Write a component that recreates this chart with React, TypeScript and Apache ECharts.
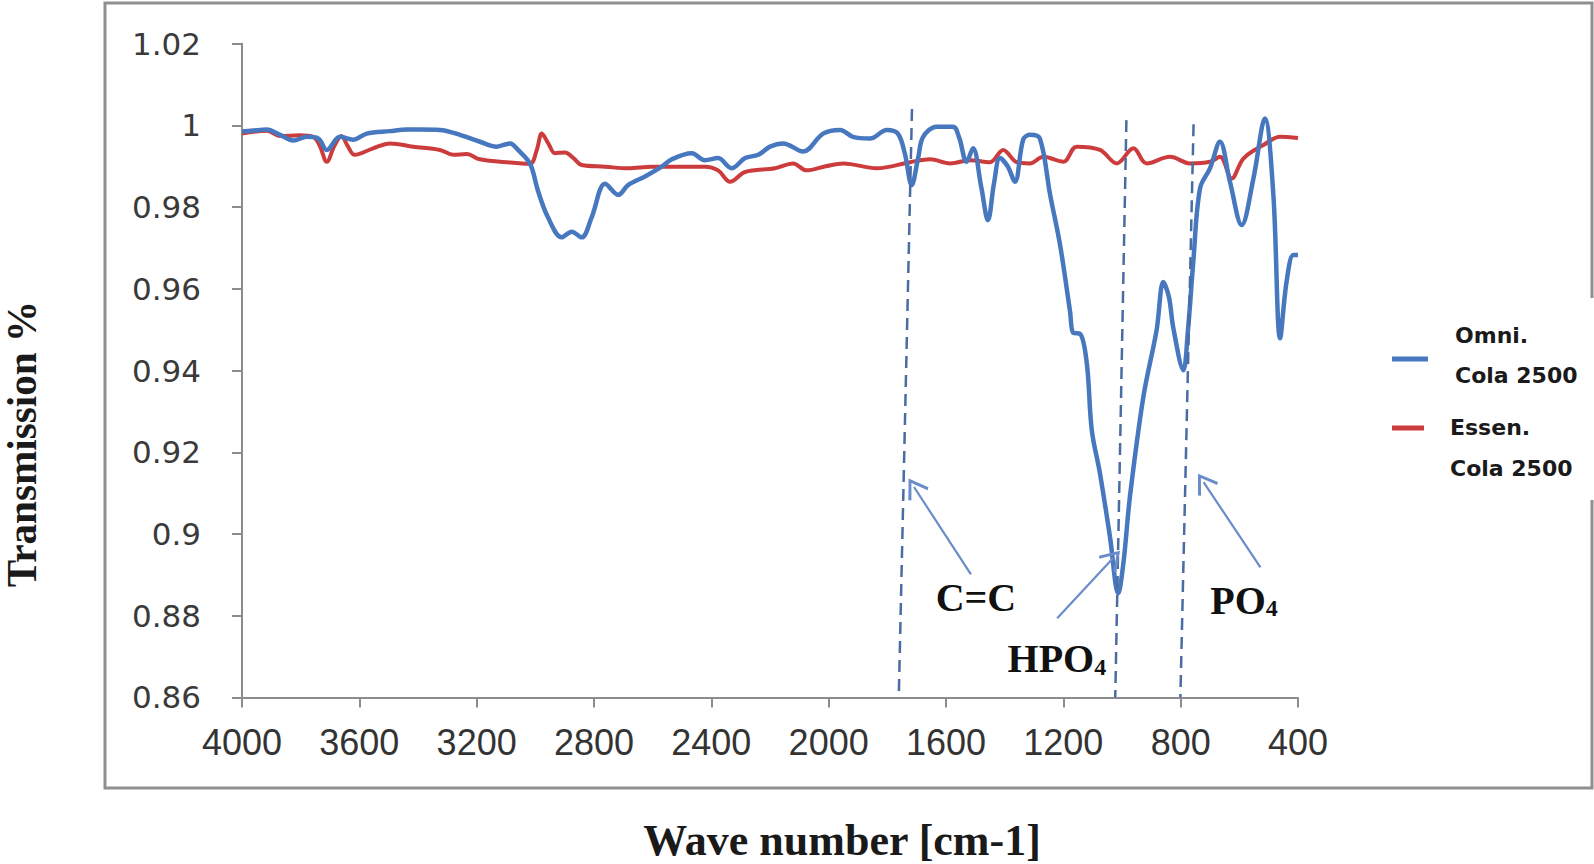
import React, { useEffect, useRef } from "react";
import * as echarts from "echarts";

// ---- data ----
const omniWave = [
  4000, 3950, 3916, 3870, 3825, 3780, 3740, 3711, 3666, 3621, 3575, 3495, 3439, 3393, 3325, 3257,
  3189, 3132, 3086, 3059, 3018, 2991, 2957, 2910, 2876, 2842, 2808, 2762, 2717, 2684, 2626, 2569,
  2535, 2467, 2422, 2377, 2331, 2285, 2240, 2200, 2155, 2087, 2019, 1961, 1917, 1859, 1802, 1764,
  1740, 1717, 1695, 1678, 1632, 1576, 1555, 1530, 1508, 1480, 1457, 1436, 1416, 1390, 1365, 1337,
  1314, 1280, 1245, 1211, 1177, 1166, 1143, 1120, 1103, 1075, 1041, 1013, 995, 973, 927, 882, 859,
  840, 825, 791, 775, 757, 734, 700, 666, 632, 592, 552, 513, 484, 461, 439, 416, 400,
];
const omniT = [
  0.9985, 0.9988, 0.999, 0.9977, 0.9963, 0.9972, 0.9968, 0.994, 0.9972, 0.9965, 0.998, 0.9986, 0.999,
  0.999, 0.9989, 0.9977, 0.996, 0.9948, 0.9956, 0.994, 0.9906, 0.984, 0.9775, 0.9726, 0.974, 0.9726,
  0.9775, 0.9857, 0.983, 0.9854, 0.9875, 0.9899, 0.9917, 0.9932, 0.9915, 0.992, 0.9895, 0.992, 0.9928,
  0.9948, 0.9956, 0.9936, 0.998, 0.9989, 0.9972, 0.9968, 0.9989, 0.998, 0.993, 0.9854, 0.992, 0.9972,
  0.9997, 0.9997, 0.997, 0.9911, 0.9944, 0.985, 0.9768, 0.986, 0.992, 0.99, 0.9862, 0.9965, 0.9977,
  0.9968, 0.983, 0.9707, 0.9544, 0.9492, 0.949, 0.9418, 0.9254, 0.9148, 0.8993, 0.8855, 0.893, 0.9091,
  0.9336, 0.9499, 0.9617, 0.958, 0.9504, 0.9401, 0.95, 0.9666, 0.9846, 0.9895, 0.996, 0.9862, 0.9756,
  0.987, 1.0017, 0.983, 0.9479, 0.9617, 0.9683, 0.9683,
];
const essenWave = [
  4000, 3916, 3870, 3803, 3757, 3735, 3711, 3685, 3661, 3640, 3616, 3553, 3495, 3416, 3325, 3280,
  3234, 3189, 3086, 3018, 2995, 2978, 2955, 2933, 2899, 2870, 2842, 2762, 2684, 2603, 2512, 2422,
  2377, 2336, 2285, 2183, 2121, 2076, 2010, 1950, 1836, 1722, 1654, 1586, 1518, 1450, 1405, 1359,
  1314, 1268, 1200, 1155, 1075, 1018, 961, 916, 836, 768, 700, 666, 626, 586, 518, 461, 400,
];
const essenT = [
  0.998, 0.9987, 0.9974, 0.9976, 0.9972, 0.995, 0.9911, 0.995, 0.9974, 0.995, 0.9928, 0.9944, 0.9956,
  0.9948, 0.994, 0.9928, 0.993, 0.9917, 0.9909, 0.9906, 0.994, 0.998, 0.9955, 0.9932, 0.9934, 0.992,
  0.9903, 0.9899, 0.9895, 0.9899, 0.9899, 0.9899, 0.989, 0.9862, 0.9886, 0.9895, 0.9907, 0.989, 0.99,
  0.9907, 0.9895, 0.991, 0.9917, 0.9907, 0.9915, 0.991, 0.994, 0.991, 0.9907, 0.9923, 0.9911, 0.9948,
  0.994, 0.9907, 0.9944, 0.9907, 0.9923, 0.9907, 0.9911, 0.9923, 0.987, 0.9919, 0.9952, 0.9972, 0.9969,
];

const seriesNames = ["Omni. Cola 2500", "Essen. Cola 2500"];
const legendLines = [["Omni.", "Cola 2500"], ["Essen.", "Cola 2500"]];
const xTitle = "Wave number [cm-1]";
const yTitle = "Transmission %";

// annotation guide lines: [wave top, T top, wave bottom, T bottom]
const guideLines = [
  [1716, 1.004, 1761, 0.86],
  [985, 1.0013, 1023, 0.86],
  [756, 1.0003, 801, 0.86],
];
// arrows: [wave from, T from, wave to, T to]
const arrows = [
  [1515, 0.8901, 1709, 0.9115],
  [1221, 0.8794, 1030, 0.8941],
  [528, 0.8918, 722, 0.9127],
];
// annotation labels
const annotLabels = [
  { text: "{m|C=C}", wave: 1498, t: 0.8844 },
  { text: "{m|HPO}{s|4}", wave: 1222, t: 0.8694 },
  { text: "{m|PO}{s|4}", wave: 584, t: 0.8838 },
];

const BLUE = "#4677bf";
const RED = "#cc3c3c";

export default function App() {
  const ref = useRef<HTMLDivElement>(null);
  useEffect(() => {
    if (!ref.current) return;
    const chart = echarts.init(ref.current, null, { renderer: "svg" });
    const axisGray = "#8c8c8c";
    const textStyle = (text: string, font: string, align: string) => ({
      text,
      font,
      fill: "#1a1a1a",
      textAlign: align,
      textVerticalAlign: "middle",
      align,
      verticalAlign: "middle",
    });
    const option: any = {
      animation: false,
      backgroundColor: "#ffffff",
      grid: { left: 242, right: 296, top: 43.7, bottom: 166.6, containLabel: false, outerBoundsMode: "none" },
      xAxis: {
        type: "value",
        inverse: true,
        min: 400,
        max: 4000,
        interval: 400,
        axisLine: { show: true, lineStyle: { color: axisGray, width: 2 } },
        axisTick: { show: true, length: 10, lineStyle: { color: axisGray, width: 2 } },
        axisLabel: {
          margin: 27,
          fontFamily: "Liberation Sans",
          fontSize: 36,
          color: "#333333",
          formatter: (v: number) => String(v),
        },
        splitLine: { show: false },
      },
      yAxis: {
        type: "value",
        min: 0.86,
        max: 1.02,
        interval: 0.02,
        axisLine: { show: true, lineStyle: { color: axisGray, width: 2 } },
        axisTick: { show: true, length: 10, lineStyle: { color: axisGray, width: 2 } },
        axisLabel: {
          margin: 41,
          fontFamily: "DejaVu Sans",
          fontSize: 31,
          color: "#3a3a3a",
          formatter: (v: number) => String(parseFloat(v.toFixed(2))),
        },
        splitLine: { show: false },
      },
      series: [
        {
          name: seriesNames[0],
          type: "line",
          data: omniWave.map((w, i) => [w, omniT[i]]),
          showSymbol: false,
          symbol: "none",
          smooth: 0.35,
          lineStyle: { color: BLUE, width: 4.5 },
          itemStyle: { color: BLUE },
          z: 3,
          markLine: {
            silent: true,
            symbol: ["none", "none"],
            label: { show: false },
            lineStyle: { color: "#4a6ca3", width: 2.5, type: [12, 7] },
            data: guideLines.map((g) => [{ coord: [g[0], g[1]] }, { coord: [g[2], g[3]] }]),
          },
          markPoint: {
            silent: true,
            symbol: "circle",
            symbolSize: 0,
            label: {
              show: true,
              position: "inside",
              formatter: (p: any) => p.data.text,
              rich: {
                m: { fontFamily: "Liberation Serif", fontWeight: "bold", fontSize: 40, color: "#111111" },
                s: {
                  fontFamily: "Liberation Serif",
                  fontWeight: "bold",
                  fontSize: 24,
                  color: "#111111",
                  verticalAlign: "bottom",
                },
              },
            },
            data: annotLabels.map((a) => ({ coord: [a.wave, a.t], text: a.text })),
          },
        },
        {
          name: seriesNames[1],
          type: "line",
          data: essenWave.map((w, i) => [w, essenT[i]]),
          showSymbol: false,
          symbol: "none",
          smooth: 0.35,
          lineStyle: { color: RED, width: 4 },
          itemStyle: { color: RED },
          z: 2,
          markLine: {
            silent: true,
            symbol: ["none", "path://M5,0 L10,9 L9,10 L5,2.6 L1,10 L0,9 Z"],
            symbolSize: [24, 20],
            label: { show: false },
            lineStyle: { color: "#6a8cc8", width: 2.2, type: "solid" },
            itemStyle: { color: "#6a8cc8" },
            data: arrows.map((a) => [{ coord: [a[0], a[1]] }, { coord: [a[2], a[3]] }]),
          },
        },
      ],
      graphic: [
        {
          type: "rect",
          shape: { x: 105, y: 3, width: 1487, height: 785 },
          style: { fill: "none", stroke: "#8f8f8f", lineWidth: 3 },
          silent: true,
          z: 0,
        },
        {
          type: "rect",
          shape: { x: 1360, y: 298, width: 240, height: 202 },
          style: { fill: "#ffffff" },
          silent: true,
          z: 1,
        },
        {
          type: "line",
          shape: { x1: 1392, y1: 359, x2: 1428, y2: 359 },
          style: { stroke: BLUE, lineWidth: 5 },
          z: 2,
        },
        { type: "text", x: 1455, y: 335, style: textStyle(legendLines[0][0], 'bold 22px "DejaVu Sans"', "left"), z: 2 },
        { type: "text", x: 1455, y: 375, style: textStyle(legendLines[0][1], 'bold 22px "DejaVu Sans"', "left"), z: 2 },
        {
          type: "line",
          shape: { x1: 1392, y1: 428, x2: 1424, y2: 428 },
          style: { stroke: RED, lineWidth: 5 },
          z: 2,
        },
        { type: "text", x: 1450, y: 427, style: textStyle(legendLines[1][0], 'bold 22px "DejaVu Sans"', "left"), z: 2 },
        { type: "text", x: 1450, y: 468, style: textStyle(legendLines[1][1], 'bold 22px "DejaVu Sans"', "left"), z: 2 },
        { type: "text", x: 842, y: 840, style: textStyle(xTitle, 'bold 44px "Liberation Serif"', "center"), z: 2 },
        {
          type: "text",
          x: 22,
          y: 444,
          rotation: Math.PI / 2,
          scaleX: 0.98,
          style: textStyle(yTitle, 'bold 42px "Liberation Serif"', "center"),
          z: 2,
        },
      ],
    };
    chart.setOption(option);
    return () => chart.dispose();
  }, []);
  return (
    <div
      ref={ref}
      style={{ position: "fixed", left: 0, top: 0, width: 1594, height: 864, background: "#fff" }}
    />
  );
}
